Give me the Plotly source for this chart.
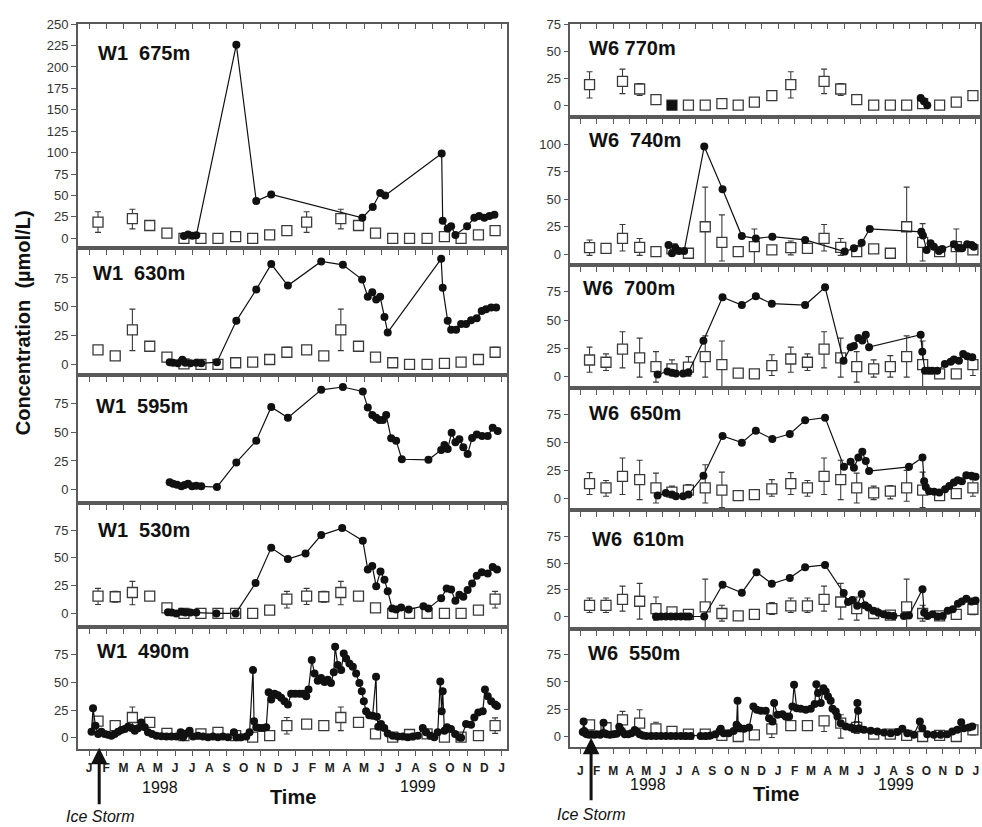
import plotly.graph_objects as go

# ---------------- DATA ----------------
# x values are months since 1 Jan 1998 (0 = Jan 1998, 24 = Jan 2000)
MONTH_TICKS = list(range(25))
MONTH_LABELS = ["J", "F", "M", "A", "M", "J", "J", "A", "S", "O", "N", "D",
                "J", "F", "M", "A", "M", "J", "J", "A", "S", "O", "N", "D", "J"]

SQ_T_W1 = [0.52, 1.52, 2.52, 3.53, 4.53, 5.52, 6.51, 7.5, 8.53, 9.52, 10.51, 11.51,
           12.66, 13.66, 14.65, 15.68, 16.67, 17.67, 18.65, 19.67, 20.68, 21.65, 22.66, 23.63]
SQ_T_W6 = [0.56, 1.56, 2.56, 3.6, 4.59, 5.56, 6.56, 7.58, 8.59, 9.58, 10.56, 11.62,
           12.77, 13.78, 14.79, 15.8, 16.77, 17.8, 18.81, 19.8, 20.77, 21.8, 22.81, 23.82]

# ---- W1 675m ----
W1_675_SQ = [19, None, 23, 15, 6, 0, 0, 0, 2, 0, 4, 9, 19, None, 23, 15, 6, 0, 0, 0, 2, 0, 4, 9]
W1_675_EP = [12, 0, 11, 2, 1, 0, 0, 0, 0, 0, 0, 1, 12, 0, 11, 2, 1, 0, 0, 0, 0, 0, 0, 1]
W1_675_EM = [12, 0, 12, 2, 1, 0, 0, 0, 0, 0, 0, 1, 12, 0, 12, 2, 1, 0, 0, 0, 0, 0, 0, 1]
W1_675_T = [5.52, 5.76, 6.01, 6.24, 8.57, 9.73, 10.6, 15.9, 16.51, 16.94, 17.23, 20.52, 20.58,
            20.87, 21.07, 21.32, 22.0, 22.42, 22.7, 23.0, 23.3, 23.59]
W1_675_C = [2.7, 4.6, 3, 3.5, 226, 43.5, 51.3, 24, 36.6, 53, 50, 99, 20.4,
            11.5, 14, 4, 14, 24, 26, 24, 26, 27.4]

# ---- W1 630m ----
W1_630_SQ = [12.6, 7.5, 30, 15.8, 6.3, 0.5, 0, 0, 1.5, 2, 4.3, 10.6,
             12.6, 7.5, 30, 15.8, 6.3, 1.5, 0, 0, 1, 2, 4.3, 10.6]
W1_630_EP = [0, 0, 18, 0, 0, 0, 0, 0, 0, 0, 0, 4.3, 0, 0, 18, 0, 0, 0, 0, 0, 0, 0, 0, 4.3]
W1_630_EM = [0, 0, 18, 0, 0, 0, 0, 0, 0, 0, 0, 3.7, 0, 0, 18, 0, 0, 0, 0, 0, 0, 0, 0, 3.7]
W1_630_T = [4.69, 4.89, 5.17, 5.43, 5.6, 5.9, 6.24, 6.53, 7.44, 8.57, 9.73, 10.6, 11.57, 13.51,
            14.77, 15.89, 16.22, 16.48, 16.71, 16.94, 17.19, 17.38, 20.49, 20.58, 20.87, 21.07,
            21.36, 21.65, 21.94, 22.23, 22.56, 22.85, 23.1, 23.4, 23.69]
W1_630_C = [2, 1.5, 1, 4, 1.5, 1, 1.5, 1, 2, 37.8, 65, 87, 68.4, 89.3,
            86.4, 73.6, 58.7, 62.7, 56.4, 58.7, 41.2, 27.8, 91.6, 66.4, 37.8, 30,
            30, 35, 35, 38.4, 40, 46.4, 47.8, 49.3, 49.3]

# ---- W1 595m ----
W1_595_T = [4.69, 4.89, 5.12, 5.37, 5.56, 5.76, 5.99, 6.24, 6.53, 7.44, 8.57, 9.73, 10.6, 11.57,
            13.51, 14.77, 15.93, 16.22, 16.48, 16.71, 16.9, 17.1, 17.29, 17.58, 17.87, 18.2,
            19.75, 20.49, 20.68, 20.87, 21.1, 21.32, 21.55, 21.78, 22.03, 22.29, 22.56, 22.87,
            23.2, 23.49, 23.78]
W1_595_C = [6.4, 5.2, 4.3, 2.9, 4, 5.2, 2.9, 3.5, 2.9, 2.3, 23.7, 42.7, 72, 62.6,
            87, 89.4, 85.6, 71.5, 65, 62.6, 60.6, 60.6, 65, 44.7, 42.7, 26.5,
            26, 34.6, 39, 35.5, 49.6, 41.3, 44, 37, 31, 45, 48, 46.7,
            46.7, 54, 51]

# ---- W1 530m ----
W1_530_SQ = [15.5, 15, 18.8, 15.5, 5, 0, 0, 0, 0, 0, 3, 12.8,
             15.5, 15, 18.8, 15.5, 5, 0, 0, 0, 0, 0, 3, 12.8]
W1_530_EP = [7, 5, 10, 0, 0, 0, 0, 0, 0, 0, 0, 7, 7, 5, 10, 0, 0, 0, 0, 0, 0, 0, 0, 7]
W1_530_EM = [7.5, 5, 11, 0, 0, 0, 0, 0, 0, 0, 0, 8, 7.5, 5, 11, 0, 0, 0, 0, 0, 0, 0, 0, 8]
W1_530_T = [4.59, 4.8, 5.07, 5.37, 5.6, 5.9, 6.24, 7.41, 8.53, 9.69, 10.6, 11.57, 12.6, 13.51,
            14.73, 15.93, 16.22, 16.48, 16.71, 16.96, 17.19, 17.38, 17.64, 17.87, 18.16, 18.6,
            19.46, 19.75, 20.49, 20.81, 21.07, 21.32, 21.55, 21.78, 22.03, 22.29, 22.56, 22.85,
            23.2, 23.49, 23.74]
W1_530_C = [1, 0.7, 0, 1.5, 0.7, 0.7, 0.7, 0, 0, 27.4, 59, 49, 54, 70.5,
            76.8, 65.5, 39.6, 42.6, 24.5, 37.8, 30.4, 20, 4.5, 3.6, 5.4, 3.6,
            6.5, 4.5, 13.7, 22.3, 21.4, 11.3, 16.7, 15, 21, 27, 34, 37,
            36, 41.7, 39.6]

# ---- W1 490m ----
W1_490_SQ = [15, 11, 18.3, 13.9, 4, 2, 3.5, 5, 2, 0.6, 2, 11,
             12.4, 11, 18.3, 13.9, 3.5, 0.6, 3, 3.5, 0.6, 0.6, 2, 11]
W1_490_EP = [2, 0, 9.5, 0, 0, 0, 0, 0, 0, 0, 0, 7.3, 2, 0, 9.5, 0, 0, 0, 0, 0, 0, 0, 0, 7]
W1_490_EM = [2, 0, 7.3, 0, 0, 0, 0, 0, 0, 0, 0, 7.5, 2, 0, 11.8, 0, 0, 0, 0, 0, 0, 0, 0, 7]
W1_490_T = [0.14, 0.23, 0.37, 0.53, 0.72, 0.91, 1.1, 1.3, 1.49, 1.69, 1.88, 2.08, 2.27, 2.47,
            2.66, 2.85, 3.04, 3.24, 3.43, 3.66, 3.92, 4.21, 4.5, 4.79, 5.08, 5.33, 5.47, 5.66,
            5.85, 6.05, 6.34, 6.63, 6.92, 7.21, 7.5, 7.79, 8.08, 8.43, 8.57, 8.86, 9.15, 9.34,
            9.54, 9.6, 9.73, 9.92, 10.12, 10.31, 10.45, 10.6, 10.79, 10.99, 11.18, 11.37, 11.57,
            11.76, 12.0, 12.25, 12.44, 12.64, 12.77, 12.96, 13.12, 13.31, 13.5, 13.7, 13.89,
            14.08, 14.24, 14.32, 14.47, 14.67, 14.82, 14.96, 15.15, 15.35, 15.54, 15.73, 15.87,
            15.99, 16.12, 16.3, 16.5, 16.7, 16.75, 16.83, 16.99, 17.18, 17.38, 17.67, 17.96,
            18.25, 18.55, 18.84, 19.13, 19.42, 19.61, 19.86, 20.09, 20.29, 20.44, 20.52, 20.58,
            20.68, 20.83, 21.06, 21.3, 21.55, 21.65, 21.94, 22.23, 22.42, 22.65, 22.91, 23.04,
            23.2, 23.4, 23.63, 23.74]
W1_490_C = [5.6, 26.6, 11, 3.5, 5.6, 3.5, 2.7, 2, 3.5, 5.6, 7, 8, 10, 8.9,
            6.5, 8.6, 13.9, 9.5, 5, 3.5, 2, 1.5, 1.2, 1.2, 1.2, 5, 0.6, 4,
            6.5, 1.2, 2, 1.2, 0.6, 1.2, 0.6, 1.2, 0.6, 5, 0.6, 0.6, 1.2, 5,
            61, 15, 9.5, 8.9, 8.9, 9.5, 41, 34.6, 39.6, 38.4, 36, 33, 30,
            39.6, 39.6, 39.6, 39.6, 37.5, 43.4, 70, 58, 51.4, 53.8, 50.2, 52.3,
            49.3, 59, 82, 65.6, 61, 76, 71.5, 67, 64, 58, 49.3, 42,
            33, 24, 20.4, 19.8, 55, 19, 10, 12.4, 8.9, 4, 2, 1.2,
            1.2, 0.6, 1.2, 2, 8.9, 5, 2, 0.6, 5, 50.8, 24, 42,
            6.5, 9.5, 8, 3.5, 0.6, 0, 12.4, 11.8, 18.3, 22.8, 24, 43.4,
            37.5, 33, 30, 28.7]

# ---- W6 770m ----
W6_770_SQ = [19, None, 22, 15, 5.2, 0, 0, 0, 1.5, 0, 2.8, 8.9,
             19, None, 22, 15, 5.2, 0, 0, 0, 1.5, 0, 2.8, 8.9]
W6_770_EP = [12, 0, 11.4, 5, 2, 0, 0, 0, 0, 0, 0, 2, 12, 0, 11.4, 5, 2, 0, 0, 0, 0, 0, 0, 2]
W6_770_EM = [12.3, 0, 11.3, 6, 2, 0, 0, 0, 0, 0, 0, 2, 12.3, 0, 11.3, 6, 2, 0, 0, 0, 0, 0, 0, 2]
W6_770_FILLED_SQ_T = [5.56]
W6_770_FILLED_SQ = [0]
W6_770_T = [20.65, 20.85, 21.05]
W6_770_C = [6.7, 3.7, 0]

# ---- W6 740m ----
W6_740_SQ = [6, 5.4, 14.4, 6.3, 2.4, 4.8, 0.9, 25, 10.8, 2.4, 7, 4,
             6, 5.4, 14.4, 6.3, 2.4, 4.8, 0.9, 25, 10.8, 2.4, 7, 4]
W6_740_EP = [7, 1.5, 12.6, 8, 0, 0, 0, 36, 25, 0, 16, 0, 6, 1.5, 12.6, 8, 0, 0, 0, 36, 17, 0, 16, 0]
W6_740_EM = [7, 1.5, 11.4, 7.3, 0, 0, 0, 35, 17, 0, 17, 0, 6.6, 1.5, 11.4, 7.3, 0, 0, 0, 35, 17, 0, 17, 0]
W6_740_T = [5.35, 5.56, 5.76, 6.0, 6.3, 7.52, 8.63, 9.8, 10.65, 11.65, 13.64, 16.04, 16.6, 17.07,
            17.56, 20.69, 20.79, 21.01, 21.25, 21.45, 21.76, 21.96, 22.67, 22.93, 23.17, 23.47,
            23.74, 23.88]
W6_740_C = [8.4, 0.9, 6, 3, 3, 98, 59, 16.5, 14.4, 16, 13, 2.4, 5.4, 10.5,
            23, 20.4, 17, 3.9, 9.9, 6.9, 3, 4.8, 9, 6, 5.4, 9,
            8.4, 6.9]

# ---- W6 700m ----
W6_700_SQ = [14.6, 12.6, 24.3, 16.4, 8.8, 6.7, 8.2, 17.6, 10.5, 2.9, 2.3, 9.7,
             15.5, 12.6, 24.3, 16.4, 8.8, 6.7, 8.8, 17.6, 10.5, 2.3, 2.3, 10.5]
W6_700_EP = [11.4, 7.4, 15.3, 17.6, 13.2, 8, 9.4, 18.4, 21, 0, 0, 9.6,
             10.5, 7.4, 15.3, 17.6, 13.2, 8, 9.7, 18.4, 21, 0, 0, 8]
W6_700_EM = [10.8, 7.3, 16.7, 17, 13.8, 6, 8, 18.2, 20, 0, 0, 8.8,
             11.7, 7.3, 16.7, 17, 13.8, 7.3, 9.4, 18.2, 20, 0, 0, 9.6]
W6_700_T = [4.69, 5.29, 5.56, 5.8, 6.24, 6.56, 7.47, 8.63, 9.8, 10.65, 11.62, 13.64, 14.85, 15.97,
            16.4, 16.6, 16.87, 17.11, 17.32, 17.52, 20.65, 20.75, 20.91, 21.15, 21.35, 21.65,
            22.12, 22.47, 22.67, 22.97, 23.23, 23.47, 23.78]
W6_700_C = [1.8, 4.4, 3.2, 2.6, 2.6, 3.8, 31.6, 70.3, 63.3, 71.2, 64.5, 63.3, 79, 14,
            26, 27, 34, 32, 37, 26, 37, 22, 5, 5, 5, 5,
            11, 13, 15, 14, 20, 18, 17]

# ---- W6 650m ----
W6_650_SQ = [13.2, 9.4, 19.7, 16.8, 9.4, 5.6, 7.4, 9.4, 7.4, 2.6, 3.5, 8.5,
             13.2, 9.4, 19.7, 16.8, 9.4, 5, 6.5, 9.4, 7.4, 2.6, 4.4, 9.4]
W6_650_EP = [9.8, 6.6, 16.3, 17.2, 13.2, 5.4, 5, 20.6, 16.1, 0, 0, 8.3,
             9.8, 6.6, 16.3, 17.2, 13.2, 6, 5, 15.6, 16.1, 0, 0, 7.4]
W6_650_EM = [9.7, 7.4, 16.2, 17.8, 13.4, 5, 5, 13.4, 15.4, 0, 0, 6.5,
             9.7, 7.4, 16.2, 17.8, 13.4, 6, 6.8, 11.8, 15.4, 0, 0, 7.4]
W6_650_T = [4.69, 5.19, 5.56, 5.8, 6.24, 6.56, 7.47, 8.63, 9.8, 10.65, 11.65, 12.71, 13.64, 14.85,
            16.0, 16.4, 16.6, 16.87, 17.11, 17.32, 17.52, 19.94, 20.76, 20.86, 20.96, 21.16,
            21.47, 21.78, 22.13, 22.39, 22.66, 22.9, 23.15, 23.42, 23.73, 23.98]
W6_650_C = [2.6, 5, 3.5, 2, 2, 3.5, 20.3, 55.6, 49.7, 60.3, 53, 57.4, 69.7, 72,
            28.2, 32.7, 27.4, 36.4, 41.7, 33.4, 24.4, 28.2, 36.4, 15.4, 10.3, 6.4,
            5.9, 5.4, 8.3, 11.2, 14.2, 16.3, 15.4, 20.8, 20.2, 19.3]

# ---- W6 610m ----
W6_610_SQ = [10.5, 10.5, 16, 14.3, 7.4, 4.3, 1.9, 9, 2.8, 0.6, 1.9, 7.4,
             10, 10, 16, 13.6, 7.4, 2.8, 1.2, 9, 2.8, 0.6, 1.9, 6.8]
W6_610_EP = [6.9, 6.9, 12.5, 16.7, 10.9, 0, 0, 26, 7.7, 0, 0, 5.6,
             7.4, 7.4, 12.5, 17.4, 10.9, 0, 0, 26, 7.7, 0, 0, 5.3]
W6_610_EM = [6.8, 6.8, 11, 16.8, 10.8, 0, 0, 20, 7.1, 0, 0, 5.4,
             6.3, 6.3, 11, 16.1, 10.8, 0, 0, 20, 7.1, 0, 0, 5]
W6_610_T = [4.59, 4.89, 5.19, 5.5, 5.8, 6.1, 6.4, 6.6, 7.52, 8.63, 9.8, 10.69, 11.62, 12.71,
            13.64, 14.85, 15.98, 16.24, 16.5, 16.8, 17.07, 17.27, 17.47, 17.78, 18.09, 18.4,
            18.7, 19.0, 19.63, 19.94, 20.76, 20.86, 21.07, 21.37, 21.68, 21.99, 22.29, 22.6,
            22.91, 23.15, 23.42, 23.73, 23.98]
W6_610_C = [0, 0, 0, 0, 0, 0, 0, 0, 0, 29.7, 22.3, 41.5, 30.7, 36,
            46.2, 48.3, 22, 13.7, 15.5, 10, 21, 10.5, 8.4, 5.3, 3.6, 2,
            1, 0.5, 0.5, 1, 25.6, 3.6, 0.5, 2, 0, 0.5, 5.3, 6.9,
            11.9, 14, 16.6, 14, 15]

# ---- W6 550m ----
W6_550_SQ = [10.7, 8, 15.3, 12.2, 7, 4.6, 2.1, 2.1, 1, 0, 1.5, 7,
             10, 10, 14.4, 12.2, 8.3, 2.1, 2.1, 1, 0, 1, 0, 6.1]
W6_550_EP = [3, 0, 7.7, 12.3, 6, 2, 0, 0, 0, 0, 0, 8.3, 3.7, 3.7, 4, 7.7, 5.5, 0, 0, 0, 0, 0, 0, 4.6]
W6_550_EM = [3, 0, 7.7, 8, 6, 2, 0, 0, 0, 0, 0, 8, 3.9, 3.9, 9.8, 13.7, 5.5, 0, 0, 0, 0, 0, 0, 4.6]
W6_550_T = [0.15, 0.2, 0.24, 0.3, 0.4, 0.55, 0.7, 0.85, 1.0, 1.2, 1.35, 1.41, 1.47, 1.6, 1.8,
            2.0, 2.2, 2.36, 2.45, 2.55, 2.7, 2.9, 3.1, 3.3, 3.45, 3.6, 3.8, 4.0, 4.3, 4.6, 4.9,
            5.2, 5.5, 5.8, 6.1, 6.4, 6.7, 7.3, 7.6, 7.9, 8.2, 8.45, 8.52, 8.7, 9.0, 9.3, 9.48,
            9.54, 9.58, 9.7, 9.94, 10.24, 10.5, 10.71, 10.95, 11.25, 11.45, 11.66, 11.76, 11.96,
            12.26, 12.46, 12.67, 12.87, 12.97, 13.13, 13.37, 13.68, 13.98, 14.22, 14.32, 14.42,
            14.59, 14.75, 14.89, 15.03, 15.19, 15.3, 15.5, 15.6, 15.8, 16.1, 16.41, 16.61, 16.81,
            16.85, 16.91, 17.21, 17.62, 18.02, 18.42, 18.83, 19.23, 19.54, 19.84, 20.24, 20.6,
            20.75, 21.05, 21.45, 21.86, 22.26, 22.57, 22.87, 23.11, 23.27, 23.58, 23.78]
W6_550_C = [4, 13.8, 5, 3, 2, 1.5, 2, 1.5, 2, 1.5, 3, 12.5, 3, 2, 1.5,
            2, 2.5, 9, 6, 4, 2, 2, 3, 6, 4, 2, 1, 0.5, 0.5, 0.5, 0.5,
            0.5, 0.5, 0.5, 0.5, 0.5, 0.5, 0.5, 0.5, 1, 2, 5, 7, 3, 3, 5, 10.7,
            32.7, 9, 7.6, 7, 8.3, 27.5, 24.5, 23.5, 23.5, 16.8, 13.8, 30.6, 20,
            20.5, 18.3, 18.3, 27.5, 47.4, 26, 25.4, 24.5, 25.4, 29.7, 48, 39.8,
            30.6, 44.3, 41.3, 36.7, 32.7, 25.4, 23, 18.3, 12.2, 9.2, 8.3, 7, 30.6,
            23.5, 7.6, 6.1, 5.2, 4.6, 3.7, 3, 4, 7, 3, 1.5, 13.8,
            7.6, 2.1, 1.5, 1.5, 2.1, 4.6, 6.1, 13, 7.6, 8.3, 9.2]

# ---------------- LAYOUT GEOMETRY (pixels) ----------------
W, H = 982, 827
FONT = "Liberation Sans, Arial, Helvetica, sans-serif"
AX_COLOR = "#5a5a5a"
INK = "#111111"

LEFT_X = (78, 508)
RIGHT_X = (571, 981)
LEFT_RANGE = [-0.65, 24.35]
RIGHT_RANGE = [-0.6, 24.25]

# (label, column, top px, bottom px, y range, y ticks, label pos px, squares, circles)
PANELS = [
    ("W1\u00a0\u00a0675m", "L", 17.3, 243, [-11.2, 250], list(range(0, 251, 25)), (96, 46),
     (SQ_T_W1, W1_675_SQ, W1_675_EP, W1_675_EM), (W1_675_T, W1_675_C)),
    ("W1\u00a0\u00a0630m", "L", 243, 371, [-9, 101], [0, 25, 50, 75], (91, 268),
     (SQ_T_W1, W1_630_SQ, W1_630_EP, W1_630_EM), (W1_630_T, W1_630_C)),
    ("W1\u00a0\u00a0595m", "L", 371, 500.7, [-12, 100], [0, 25, 50, 75], (94, 402),
     None, (W1_595_T, W1_595_C)),
    ("W1\u00a0\u00a0530m", "L", 500.7, 625, [-12, 99], [0, 25, 50, 75], (96.5, 527),
     (SQ_T_W1, W1_530_SQ, W1_530_EP, W1_530_EM), (W1_530_T, W1_530_C)),
    ("W1\u00a0\u00a0490m", "L", 625, 748.3, [-10, 100], [0, 25, 50, 75], (95, 650),
     (SQ_T_W1, W1_490_SQ, W1_490_EP, W1_490_EM), (W1_490_T, W1_490_C)),
    ("W6 770m", "R", 17.3, 110.7, [-10.7, 75], [0, 25, 50, 75], (588, 41),
     (SQ_T_W6, W6_770_SQ, W6_770_EP, W6_770_EM), (W6_770_T, W6_770_C)),
    ("W6\u00a0\u00a0740m", "R", 110.7, 260, [-9.6, 125], [0, 25, 50, 75, 100], (588, 134),
     (SQ_T_W6, W6_740_SQ, W6_740_EP, W6_740_EM), (W6_740_T, W6_740_C)),
    ("W6\u00a0\u00a0700m", "R", 260, 384, [-10, 99], [0, 25, 50, 75], (582, 283),
     (SQ_T_W6, W6_700_SQ, W6_700_EP, W6_700_EM), (W6_700_T, W6_700_C)),
    ("W6\u00a0\u00a0650m", "R", 384, 507.7, [-10.6, 98.6], [0, 25, 50, 75], (588, 409),
     (SQ_T_W6, W6_650_SQ, W6_650_EP, W6_650_EM), (W6_650_T, W6_650_C)),
    ("W6\u00a0\u00a0610m", "R", 507.7, 627.3, [-11.7, 99.4], [0, 25, 50, 75], (591, 537),
     (SQ_T_W6, W6_610_SQ, W6_610_EP, W6_610_EM), (W6_610_T, W6_610_C)),
    ("W6\u00a0\u00a0550m", "R", 627.3, 746.7, [-10, 98.6], [0, 25, 50, 75], (587, 652),
     (SQ_T_W6, W6_550_SQ, W6_550_EP, W6_550_EM), (W6_550_T, W6_550_C)),
]


def fx(p):
    return p / W


def fy(p):
    return 1 - p / H


def clean(errs):
    return [e if e else None for e in errs]


fig = go.Figure()
layout = dict(width=W, height=H, margin=dict(l=0, r=0, t=0, b=0),
              paper_bgcolor="white", plot_bgcolor="white", showlegend=False,
              font=dict(family=FONT, color="#222"))
annotations = []

for i, (label, col, top, bot, yr, yt, lpos, sq, circ) in enumerate(PANELS, start=1):
    xa, ya = f"x{i}", f"y{i}"
    xd = LEFT_X if col == "L" else RIGHT_X
    xr = LEFT_RANGE if col == "L" else RIGHT_RANGE
    is_bottom = (i == 5) or (i == 11)
    layout[f"xaxis{i}"] = dict(
        domain=[fx(xd[0]), fx(xd[1])], range=xr, anchor=ya,
        tickmode="array", tickvals=MONTH_TICKS, ticktext=MONTH_LABELS,
        showticklabels=is_bottom, ticks="outside", ticklen=5, tickwidth=1.2,
        tickcolor=AX_COLOR, showline=True, linecolor=AX_COLOR, linewidth=1.6,
        mirror=True, showgrid=False, zeroline=False,
        tickfont=dict(size=12, family=FONT, color="#222", weight="bold"),
        ticklabelstandoff=(2 if i == 5 else 6),
    )
    layout[f"yaxis{i}"] = dict(
        domain=[fy(bot), fy(top)], range=yr, anchor=xa,
        tickmode="array", tickvals=yt, ticks="outside", ticklen=5, tickwidth=1.2,
        tickcolor=AX_COLOR, showline=True, linecolor=AX_COLOR, linewidth=1.6,
        mirror=True, showgrid=False, zeroline=False,
        tickfont=dict(size=13, family=FONT, color="#333"),
    )
    if sq is not None:
        st, sv, ep, em = sq
        fig.add_trace(go.Scatter(
            x=st, y=sv, mode="markers", xaxis=xa, yaxis=ya, hoverinfo="skip",
            marker=dict(symbol="square", size=10, color="white",
                        line=dict(color="#3a3a3a", width=1.3)),
            error_y=dict(type="data", symmetric=False, array=clean(ep),
                         arrayminus=clean(em), color="#3a3a3a", thickness=1.1, width=3),
        ))
    if i == 6:
        fig.add_trace(go.Scatter(
            x=W6_770_FILLED_SQ_T, y=W6_770_FILLED_SQ, mode="markers", xaxis=xa, yaxis=ya,
            marker=dict(symbol="square", size=10, color=INK), hoverinfo="skip"))
    ct, cv = circ
    fig.add_trace(go.Scatter(
        x=ct, y=cv, mode="lines+markers", xaxis=xa, yaxis=ya, hoverinfo="skip",
        line=dict(color=INK, width=1.2), marker=dict(size=8, color=INK),
    ))
    annotations.append(dict(
        text=f"<b>{label}</b>", x=fx(lpos[0]), y=fy(lpos[1]), xref="paper", yref="paper",
        xanchor="left", yanchor="middle", showarrow=False,
        font=dict(size=20, family=FONT, color="#111")))

# top-border ticks (pointing inward) on the two top panels
for k, (base, col) in enumerate([(1, "L"), (6, "R")], start=12):
    xr = LEFT_RANGE if col == "L" else RIGHT_RANGE
    layout[f"xaxis{k}"] = dict(
        overlaying=f"x{base}", side="top", anchor=f"y{base}", range=xr,
        tickmode="array", tickvals=MONTH_TICKS, showticklabels=False,
        ticks="inside", ticklen=5, tickwidth=1.2, tickcolor=AX_COLOR,
        showline=False, showgrid=False, zeroline=False)
    fig.add_trace(go.Scatter(x=[xr[0]], y=[0], xaxis=f"x{k}", yaxis=f"y{base}",
                             mode="markers", marker=dict(opacity=0), hoverinfo="skip"))


def txt(s, x, y, size, bold=False, italic=False, angle=0):
    t = s
    if bold:
        t = f"<b>{t}</b>"
    if italic:
        t = f"<i>{t}</i>"
    return dict(text=t, x=fx(x), y=fy(y), xref="paper", yref="paper", showarrow=False,
                xanchor="center", yanchor="middle", textangle=angle,
                font=dict(size=size, family=FONT, color="#111"))


annotations += [
    txt("Concentration\u00a0\u00a0(\u00b5mol/L)", 23, 318, 20, bold=True, angle=-90),
    txt("1998", 160, 787, 16), txt("1999", 418, 786, 16), txt("Time", 293, 797, 20, bold=True),
    txt("1998", 649, 784, 16), txt("1999", 897, 784, 16), txt("Time", 777, 794, 20, bold=True),
    txt("Ice Storm", 100, 816, 16, italic=True), txt("Ice Storm", 592, 814, 16, italic=True),
]
for (ax_x, head_y, tail_len) in [(99.3, 747, 58), (591.7, 737, 64)]:
    annotations.append(dict(
        text="", x=fx(ax_x), y=fy(head_y), xref="paper", yref="paper",
        showarrow=True, ax=0, ay=tail_len, axref="pixel", ayref="pixel",
        arrowhead=2, arrowsize=1.1, arrowwidth=3, arrowcolor="#111"))

layout["annotations"] = annotations
fig.update_layout(**layout)
fig.write_html(
    "out.html",
    config={"displayModeBar": False},
    post_script="document.body.style.margin='0';document.body.style.overflow='hidden';",
)
